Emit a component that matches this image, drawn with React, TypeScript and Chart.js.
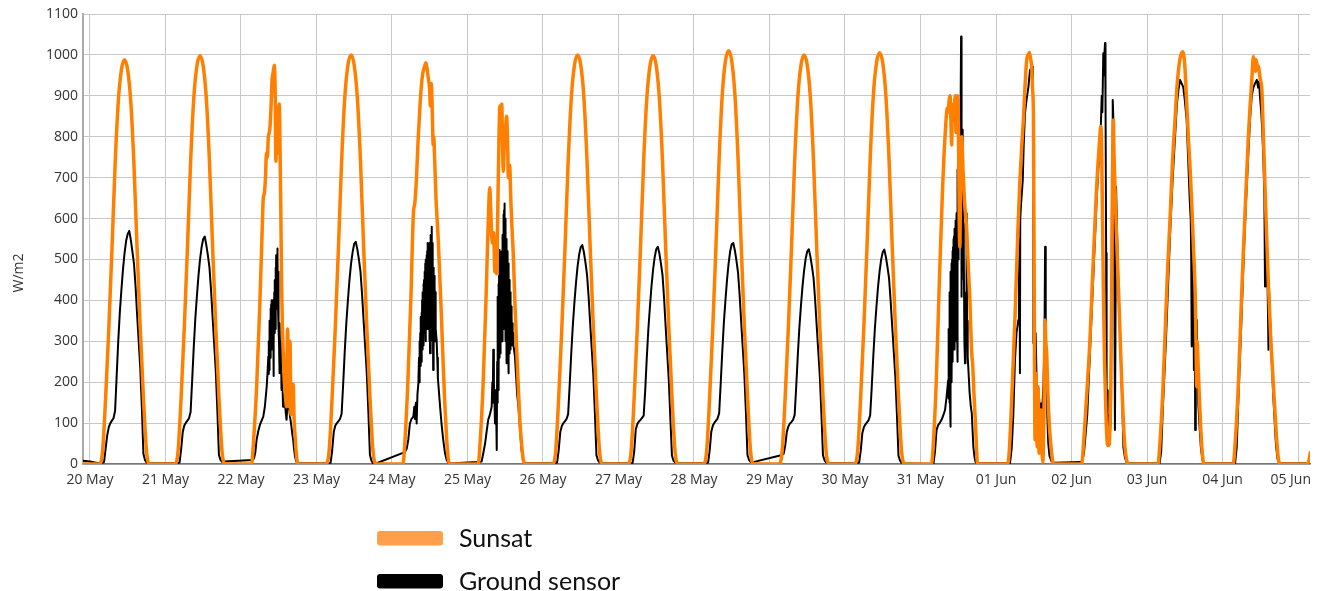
import { useEffect, useRef } from 'react';
import { Chart, registerables } from 'chart.js';
Chart.register(...registerables);

// ---------- axis / labels ----------
const DAY_LABELS = ['20 May', '21 May', '22 May', '23 May', '24 May', '25 May', '26 May', '27 May', '28 May', '29 May', '30 May', '31 May', '01 Jun', '02 Jun', '03 Jun', '04 Jun', '05 Jun'];
const X_MIN_HOURS = -2.2;
const X_MAX_HOURS = 387.8;
const Y_MIN = 0;
const Y_MAX = 1100;
const Y_STEP = 100;
const Y_TITLE = 'W/m2';
const SERIES_NAMES = ['Sunsat', 'Ground sensor'];

// ---------- Sunsat: clear days, hourly values (hours 3..19) ----------
const SUNSAT_HOURS = [3, 4, 5, 6, 7, 8, 9, 10, 11, 12, 13, 14, 15, 16, 17, 18, 19];
const sunsatClearDays = [0, 1, 3, 6, 7, 8, 9, 10];
const sunsatClearValues = [
  [0, 30, 163, 331, 524, 731, 884, 963, 988, 963, 884, 731, 524, 331, 163, 30, 0],
  [0, 30, 165, 334, 529, 738, 893, 973, 998, 973, 893, 738, 529, 334, 165, 30, 0],
  [0, 30, 165, 335, 530, 740, 895, 975, 1000, 975, 895, 740, 530, 335, 165, 30, 0],
  [0, 28, 163, 333, 528, 738, 894, 975, 1000, 976, 896, 741, 531, 336, 166, 30, 0],
  [0, 29, 164, 334, 529, 739, 893, 973, 998, 974, 893, 739, 529, 334, 164, 29, 0],
  [0, 30, 167, 338, 535, 747, 904, 985, 1010, 985, 904, 747, 535, 338, 167, 30, 0],
  [0, 30, 165, 335, 530, 740, 895, 975, 1000, 975, 895, 740, 530, 335, 165, 30, 0],
  [0, 30, 166, 337, 533, 744, 900, 980, 1005, 980, 900, 744, 533, 337, 166, 30, 0],
];

// ---------- Sunsat: cloudy days, [hour of day, W/m2] ----------
const sunsatLeadIn = [[-2.2, 0], [0, 0]];
const sunsat22May = [[3, 0], [3.4, 0], [4, 55], [5, 190], [6, 390], [6.7, 560], [7.1, 650], [7.4, 660], [7.8, 700], [8.1, 760], [8.4, 750], [8.7, 800], [9.0, 810], [9.3, 830], [9.6, 880], [9.9, 940], [10.2, 955], [10.6, 975], [10.9, 900], [11.1, 740], [11.3, 820], [11.55, 870], [11.8, 760], [12.0, 860], [12.2, 880], [12.45, 760], [12.7, 600], [12.9, 450], [13.2, 330], [13.5, 260], [13.8, 200], [14.1, 170], [14.5, 140], [14.8, 330], [15.1, 230], [15.3, 140], [15.6, 300], [15.9, 120], [16.2, 190], [16.6, 195], [16.9, 110], [17.2, 70], [17.6, 25], [18.1, 0], [19, 0]];
const sunsat24May = [[3, 0], [3.5, 0], [4, 40], [5, 190], [6, 400], [6.8, 610], [7.3, 640], [7.8, 700], [8.3, 790], [8.8, 860], [9.3, 920], [9.8, 955], [10.3, 970], [10.8, 981], [11.2, 965], [11.6, 940], [12.0, 915], [12.2, 875], [12.5, 930], [12.8, 870], [13.1, 780], [13.3, 800], [13.5, 760], [14.0, 650], [14.7, 550], [15.3, 440], [15.8, 345], [16.3, 240], [16.85, 140], [17.4, 60], [17.9, 12], [18.4, 0], [19, 0]];
const sunsat25May = [[3, 0], [3.4, 0], [4, 50], [5, 200], [6, 430], [6.8, 640], [7.1, 675], [7.4, 620], [7.7, 560], [8.0, 540], [8.3, 565], [8.7, 470], [9.0, 495], [9.3, 465], [9.6, 600], [10.0, 790], [10.3, 875], [10.6, 840], [10.9, 880], [11.2, 760], [11.4, 715], [11.7, 780], [12.1, 820], [12.45, 850], [12.8, 770], [13.0, 700], [13.4, 730], [13.8, 640], [14.2, 570], [14.6, 505], [15.1, 390], [15.6, 290], [16.2, 180], [16.7, 100], [17.2, 50], [17.75, 10], [18.3, 0], [19, 0]];
const sunsat31May = [[3, 0], [3.5, 0], [4, 40], [5, 200], [6, 450], [6.5, 560], [7, 670], [7.5, 760], [7.8, 800], [8.2, 850], [8.5, 870], [8.8, 860], [9.1, 890], [9.4, 900], [9.7, 830], [9.9, 780], [10.1, 860], [10.4, 880], [10.7, 840], [11.0, 900], [11.3, 810], [11.5, 870], [11.7, 900], [12.0, 860], [12.3, 600], [12.5, 530], [12.8, 760], [13.1, 800], [13.5, 720], [14.0, 640], [14.7, 570], [15.2, 480], [15.7, 400], [16.2, 280], [16.6, 240], [17.0, 170], [17.4, 110], [17.8, 40], [18.1, 0], [19, 0]];
const sunsat01Jun = [[3, 0], [3.7, 0], [4.2, 30], [5, 160], [6, 352], [7, 580], [7.6, 694], [8.2, 780], [8.7, 841], [9.2, 920], [9.75, 988], [10.2, 1000], [10.6, 1006], [11.0, 990], [11.35, 971], [11.6, 920], [11.9, 841], [12.1, 500], [12.4, 59], [12.55, 150], [12.7, 222], [12.9, 100], [13.1, 42], [13.25, 130], [13.4, 189], [13.55, 80], [13.7, 26], [13.9, 90], [14.1, 60], [14.3, 132], [14.5, 50], [14.7, 20], [14.85, 5], [15.1, 60], [15.35, 200], [15.6, 352], [15.8, 300], [16.1, 271], [16.5, 170], [16.9, 100], [17.2, 67], [17.7, 25], [18.2, 0], [19, 0]];
const sunsat02Jun = [[3, 0], [3.2, 0], [4, 70], [5, 190], [5.9, 311], [6.7, 460], [7.5, 597], [8.0, 680], [8.5, 743], [8.9, 790], [9.3, 825], [9.6, 760], [10.1, 434], [10.5, 250], [11.0, 108], [11.4, 48], [11.7, 45], [12.0, 48], [12.3, 120], [12.5, 189], [12.8, 450], [13.0, 678], [13.3, 841], [13.5, 760], [13.8, 678], [14.3, 560], [14.9, 434], [15.5, 300], [16.0, 189], [16.5, 100], [17.0, 40], [17.5, 10], [18.1, 0], [19, 0]];
const sunsat03Jun = [[3, 0], [3.5, 0], [4, 40], [5, 175], [5.7, 311], [6.5, 470], [7.3, 597], [8.1, 740], [8.9, 841], [9.5, 920], [10.0, 963], [10.6, 995], [11.35, 1008], [12.0, 975], [12.6, 882], [13.2, 790], [13.7, 720], [14.2, 638], [14.8, 520], [15.3, 418], [15.55, 300], [15.8, 189], [15.95, 300], [16.2, 250], [16.6, 170], [17.1, 83], [17.6, 25], [18.1, 0], [19, 0]];
const sunsat04Jun = [[3, 0], [3.4, 0], [4, 50], [5, 190], [6, 400], [6.6, 516], [7.4, 660], [8.2, 800], [8.8, 880], [9.3, 939], [9.6, 980], [9.8, 996], [10.0, 975], [10.2, 990], [10.5, 960], [10.65, 988], [11.0, 975], [11.4, 971], [12.0, 940], [12.5, 914], [13.0, 800], [13.5, 678], [14.0, 560], [14.6, 434], [15.3, 310], [16.2, 189], [16.8, 110], [17.3, 50], [17.8, 10], [18.3, 0], [19, 0]];
const sunsat05Jun = [[0, 0], [3, 0], [3.5, 10], [3.9, 28]];
const sunsatNoisyDays = [2, 4, 5, 11, 12, 13, 14, 15, 16];
const sunsatNoisyValues = [sunsat22May, sunsat24May, sunsat25May, sunsat31May, sunsat01Jun, sunsat02Jun, sunsat03Jun, sunsat04Jun, sunsat05Jun];

// ---------- Ground sensor: clear days, half-hourly values (hours 4.0..18.5) ----------
const GROUND_HOURS = [4, 4.5, 5, 5.5, 6, 6.5, 7, 7.5, 8, 8.5, 9, 9.5, 10, 10.5, 11, 11.5, 12, 12.5, 13, 13.5, 14, 14.5, 15, 15.5, 16, 16.5, 17, 17.5, 18, 18.5];
const groundClearDays = [0, 1, 3, 6, 7, 8, 9, 10];
const groundClearValues = [
  [3, 5, 38, 70, 90, 100, 106, 112, 130, 215, 300, 370, 425, 475, 515, 545, 562, 570, 548, 520, 490, 435, 365, 300, 235, 140, 25, 10, 4, 2],
  [2, 4, 36, 78, 94, 101, 106, 112, 127, 205, 285, 355, 410, 460, 500, 530, 550, 556, 535, 510, 480, 425, 358, 292, 228, 132, 22, 10, 5, 6],
  [2, 3, 33, 78, 94, 100, 105, 110, 123, 196, 276, 345, 400, 450, 490, 518, 538, 543, 525, 500, 470, 415, 350, 286, 222, 128, 22, 8, 2, 0],
  [2, 4, 34, 78, 93, 100, 105, 110, 122, 195, 272, 340, 395, 443, 483, 512, 530, 535, 518, 493, 463, 410, 345, 282, 219, 126, 21, 9, 4, 2],
  [2, 3, 30, 85, 98, 104, 108, 113, 118, 180, 260, 330, 385, 435, 475, 505, 525, 531, 515, 490, 462, 405, 335, 270, 205, 110, 20, 8, 4, 2],
  [2, 4, 34, 79, 94, 101, 106, 111, 124, 198, 276, 346, 400, 450, 490, 520, 537, 540, 522, 497, 468, 414, 348, 285, 221, 128, 22, 10, 5, 4],
  [22, 25, 45, 78, 92, 99, 103, 108, 120, 190, 266, 334, 387, 435, 473, 502, 520, 525, 507, 483, 455, 402, 339, 277, 215, 124, 21, 9, 4, 2],
  [2, 4, 32, 75, 90, 97, 102, 107, 119, 188, 264, 332, 385, 433, 471, 500, 518, 524, 506, 482, 454, 400, 337, 275, 213, 122, 20, 8, 3, 2],
];

// ---------- Ground sensor: cloudy days, [hour of day, W/m2] ----------
const groundLeadIn = [[-2.2, 8], [0, 6], [1.5, 4], [3, 2]];
const ground22May = [[3.8, 10], [4.2, 15], [4.6, 30], [5.0, 60], [5.5, 80], [6.0, 95], [6.5, 105], [7.1, 116], [7.6, 140], [8.2, 190], [8.5, 230], [8.7, 262], [8.8, 220], [8.9, 300], [8.95, 230], [9.0, 320], [9.1, 250], [9.2, 350], [9.3, 260], [9.4, 380], [9.5, 270], [9.6, 390], [9.7, 280], [9.8, 400], [9.9, 290], [10.0, 390], [10.1, 300], [10.2, 400], [10.3, 215], [10.4, 380], [10.5, 300], [10.6, 420], [10.7, 320], [10.8, 450], [10.9, 330], [11.0, 480], [11.1, 360], [11.2, 510], [11.3, 380], [11.4, 500], [11.5, 400], [11.55, 527], [11.6, 420], [11.7, 500], [11.8, 380], [11.9, 470], [12.0, 330], [12.1, 300], [12.2, 222], [12.35, 344], [12.5, 250], [12.7, 300], [12.9, 181], [13.1, 220], [13.4, 140], [13.6, 170], [13.9, 156], [14.2, 130], [14.5, 108], [14.8, 150], [15.0, 173], [15.3, 140], [15.6, 116], [16.0, 95], [16.3, 75], [16.6, 59], [16.9, 35], [17.2, 18], [17.6, 6], [17.9, 3], [18.5, 2]];
const ground24May = [[4.1, 29], [4.7, 38], [5.2, 60], [5.7, 99], [6.2, 110], [6.8, 116], [7.1, 140], [7.3, 110], [7.6, 150], [7.85, 99], [8.1, 170], [8.4, 197], [8.6, 260], [8.7, 200], [8.8, 300], [8.9, 220], [9.0, 320], [9.1, 240], [9.2, 360], [9.3, 250], [9.4, 370], [9.5, 270], [9.6, 400], [9.7, 280], [9.8, 420], [9.9, 300], [10.0, 440], [10.1, 290], [10.2, 450], [10.3, 320], [10.4, 470], [10.5, 330], [10.6, 490], [10.7, 300], [10.8, 500], [10.9, 340], [11.0, 510], [11.1, 330], [11.2, 520], [11.3, 350], [11.4, 540], [11.5, 330], [11.6, 530], [11.7, 360], [11.8, 520], [11.9, 300], [12.0, 540], [12.1, 271], [12.2, 520], [12.3, 330], [12.4, 560], [12.5, 350], [12.6, 580], [12.7, 330], [12.8, 540], [12.9, 300], [13.0, 500], [13.1, 230], [13.2, 480], [13.3, 300], [13.4, 460], [13.5, 320], [13.6, 440], [13.7, 300], [13.8, 420], [13.9, 300], [14.0, 330], [14.2, 303], [14.4, 260], [14.6, 210], [14.9, 180], [15.3, 140], [15.8, 95], [16.3, 59], [16.9, 25], [17.4, 10], [17.9, 3], [18.4, 1]];
const ground25May = [[3.0, 5], [4.5, 6], [5.0, 25], [5.6, 50], [6.1, 80], [6.6, 108], [7.1, 120], [7.7, 140], [7.9, 200], [8.05, 150], [8.2, 279], [8.4, 200], [8.6, 150], [8.75, 99], [8.9, 180], [9.05, 130], [9.2, 90], [9.3, 34], [9.45, 250], [9.5, 150], [9.55, 409], [9.6, 300], [9.65, 390], [9.7, 240], [9.75, 380], [9.8, 181], [9.85, 420], [9.9, 250], [9.95, 440], [10.0, 200], [10.05, 460], [10.1, 280], [10.15, 480], [10.2, 260], [10.25, 523], [10.3, 300], [10.35, 500], [10.4, 270], [10.45, 490], [10.5, 320], [10.55, 470], [10.6, 279], [10.65, 500], [10.7, 310], [10.75, 510], [10.8, 300], [10.85, 520], [10.9, 330], [10.95, 500], [11.0, 300], [11.05, 523], [11.1, 340], [11.15, 540], [11.2, 320], [11.25, 560], [11.3, 350], [11.35, 580], [11.4, 330], [11.45, 600], [11.5, 360], [11.55, 610], [11.6, 340], [11.65, 620], [11.7, 380], [11.75, 637], [11.8, 400], [11.85, 630], [11.9, 344], [11.95, 600], [12.0, 320], [12.05, 580], [12.1, 300], [12.15, 560], [12.2, 330], [12.25, 550], [12.3, 246], [12.35, 540], [12.4, 300], [12.45, 530], [12.5, 280], [12.55, 520], [12.6, 320], [12.65, 510], [12.7, 300], [12.75, 520], [12.8, 290], [12.85, 507], [12.9, 300], [12.95, 490], [13.0, 260], [13.05, 470], [13.1, 222], [13.15, 460], [13.2, 280], [13.25, 450], [13.3, 300], [13.35, 440], [13.4, 270], [13.45, 430], [13.5, 300], [13.55, 420], [13.6, 280], [13.65, 410], [13.7, 300], [13.75, 400], [13.8, 290], [13.85, 385], [13.9, 300], [13.95, 380], [14.0, 290], [14.05, 370], [14.1, 300], [14.15, 360], [14.2, 290], [14.3, 344], [14.4, 300], [14.5, 320], [14.6, 290], [14.8, 280], [15.1, 262], [15.5, 210], [15.8, 170], [16.2, 140], [16.7, 85], [17.2, 34], [17.75, 6], [18.2, 3], [18.5, 2]];
const ground31May = [[4.1, 0], [4.6, 30], [5.1, 83], [5.6, 95], [6.1, 100], [6.7, 108], [7.2, 118], [7.8, 132], [8.3, 165], [8.8, 205], [8.85, 260], [8.9, 180], [8.95, 300], [9.0, 160], [9.05, 330], [9.1, 200], [9.15, 380], [9.2, 150], [9.25, 400], [9.3, 220], [9.35, 420], [9.4, 150], [9.45, 440], [9.5, 250], [9.55, 450], [9.6, 91], [9.65, 470], [9.7, 260], [9.75, 480], [9.8, 200], [9.85, 491], [9.9, 300], [9.95, 470], [10.0, 200], [10.05, 500], [10.1, 280], [10.15, 510], [10.2, 300], [10.25, 520], [10.3, 250], [10.35, 530], [10.4, 320], [10.45, 540], [10.5, 280], [10.55, 550], [10.6, 330], [10.65, 556], [10.7, 300], [10.75, 560], [10.8, 280], [10.85, 570], [10.9, 330], [10.95, 575], [11.0, 300], [11.05, 580], [11.1, 350], [11.15, 588], [11.2, 330], [11.25, 595], [11.3, 380], [11.35, 600], [11.4, 300], [11.45, 610], [11.5, 400], [11.55, 613], [11.6, 350], [11.65, 640], [11.7, 250], [11.75, 680], [11.8, 420], [11.85, 720], [11.9, 600], [11.95, 780], [12.0, 650], [12.05, 800], [12.1, 500], [12.15, 820], [12.2, 700], [12.25, 840], [12.3, 760], [12.35, 833], [12.4, 780], [12.45, 840], [12.5, 600], [12.55, 820], [12.6, 720], [12.65, 830], [12.7, 750], [12.8, 840], [12.9, 1045], [13.0, 620], [13.1, 409], [13.2, 700], [13.3, 817], [13.4, 550], [13.5, 650], [13.6, 588], [13.7, 450], [13.8, 520], [13.95, 300], [14.15, 246], [14.3, 320], [14.5, 420], [14.65, 613], [14.8, 350], [15.0, 262], [15.3, 220], [15.6, 175], [16.0, 140], [16.3, 124], [16.5, 90], [16.8, 42], [17.2, 15], [17.5, 5], [17.9, 2], [18.5, 2]];
const ground01Jun = [[3.0, 2], [4.45, 2], [5.0, 40], [5.5, 120], [6.0, 250], [6.5, 320], [7.1, 352], [7.3, 450], [7.5, 550], [7.6, 222], [7.7, 600], [8.0, 640], [8.5, 694], [8.8, 780], [9.2, 857], [9.7, 890], [10.3, 922], [10.8, 963], [11.3, 968], [11.7, 971], [11.85, 700], [11.9, 295], [12.1, 380], [12.3, 250], [12.6, 320], [12.9, 200], [13.1, 132], [13.4, 180], [13.7, 160], [14.0, 120], [14.3, 148], [14.5, 83], [14.8, 150], [15.1, 200], [15.4, 300], [15.6, 531], [15.8, 360], [16.0, 250], [16.3, 120], [16.6, 51], [17.0, 20], [17.7, 5], [18.2, 3], [18.5, 3]];
const ground02Jun = [[3.0, 5], [3.4, 5], [4.0, 30], [5.0, 120], [5.9, 280], [6.7, 420], [7.5, 560], [8.0, 650], [8.5, 720], [8.9, 760], [9.3, 820], [9.6, 900], [9.8, 860], [10.1, 1004], [10.3, 950], [10.45, 1000], [10.65, 1029], [10.8, 900], [11.0, 516], [11.1, 300], [11.2, 91], [11.35, 180], [11.5, 88], [11.65, 120], [11.8, 67], [12.1, 60], [12.4, 100], [12.6, 300], [12.8, 550], [12.95, 780], [13.1, 890], [13.3, 841], [13.5, 650], [13.65, 400], [13.8, 83], [13.95, 300], [14.15, 678], [14.5, 560], [14.9, 434], [15.5, 300], [16.0, 189], [16.5, 40], [17.0, 15], [17.6, 3], [18.5, 2]];
const ground03Jun = [[3.0, 2], [4.0, 2], [4.5, 30], [5, 130], [6, 300], [7.3, 556], [8.1, 690], [8.9, 800], [9.5, 880], [10.0, 915], [10.5, 939], [11.0, 930], [11.5, 922], [12.0, 890], [12.6, 841], [13.2, 720], [13.6, 640], [13.9, 597], [14.05, 500], [14.2, 287], [14.4, 560], [14.7, 500], [14.9, 230], [15.05, 440], [15.2, 400], [15.3, 83], [15.5, 300], [15.8, 352], [16.0, 250], [16.3, 148], [16.7, 90], [17.1, 42], [17.6, 10], [18.2, 2], [18.5, 2]];
const ground04Jun = [[3.0, 2], [4.0, 2], [4.5, 40], [5, 150], [6, 350], [6.6, 480], [7.4, 630], [8.2, 760], [8.8, 850], [9.3, 900], [9.8, 920], [10.3, 930], [10.9, 939], [11.3, 920], [11.6, 935], [11.9, 898], [12.3, 860], [12.6, 820], [13.0, 740], [13.3, 650], [13.5, 434], [13.7, 620], [14.0, 560], [14.3, 450], [14.6, 279], [14.8, 420], [15.1, 360], [15.6, 260], [16.1, 170], [16.6, 100], [17.0, 45], [17.5, 12], [18.0, 2], [18.5, 2]];
const ground05Jun = [[0, 2], [3.9, 2]];
const groundNoisyDays = [2, 4, 5, 11, 12, 13, 14, 15, 16];
const groundNoisyValues = [ground22May, ground24May, ground25May, ground31May, ground01Jun, ground02Jun, ground03Jun, ground04Jun, ground05Jun];

function buildSeries(hours: number[], clearDays: number[], clearValues: number[][], noisyDays: number[], noisyValues: number[][][], leadIn: number[][]) {
  const pts: { x: number; y: number }[] = [];
  clearDays.forEach((d, i) => clearValues[i].forEach((v, j) => pts.push({ x: d * 24 + hours[j], y: v })));
  noisyDays.forEach((d, i) => noisyValues[i].forEach(([h, v]) => pts.push({ x: d * 24 + h, y: v })));
  leadIn.forEach(([h, v]) => pts.push({ x: h, y: v }));
  pts.sort((a, b) => a.x - b.x);
  return pts;
}

const overlayPlugin = {
  id: 'overlay',
  afterDraw(chart: any) {
    const ctx = chart.ctx;
    const xs = chart.scales.x;
    const area = chart.chartArea;
    ctx.save();
    // x tick labels
    ctx.font = '14px "Open Sans"';
    ctx.fillStyle = '#333';
    ctx.textBaseline = 'alphabetic';
    ctx.textAlign = 'left';
    DAY_LABELS.forEach((lab, i) => {
      const px = xs.getPixelForValue(i * 24);
      const w = ctx.measureText(lab).width;
      let left = px - w / 2;
      if (left + w > chart.width - 6) left = chart.width - 6 - w;
      ctx.fillText(lab, left, area.bottom + 20);
    });
    // y title
    ctx.save();
    ctx.translate(19, 273);
    ctx.rotate(-Math.PI / 2);
    ctx.textAlign = 'center';
    ctx.textBaseline = 'middle';
    ctx.fillText(Y_TITLE, 0, 0);
    ctx.restore();
    // legend
    const swatch = (y: number, color: string) => {
      ctx.fillStyle = color;
      ctx.beginPath();
      ctx.roundRect(377, y, 66, 14.5, 3);
      ctx.fill();
    };
    swatch(531, '#ff9f4b');
    swatch(574, '#000000');
    ctx.fillStyle = '#111';
    ctx.font = '25px Lato';
    ctx.textAlign = 'left';
    ctx.textBaseline = 'alphabetic';
    ctx.fillText(SERIES_NAMES[0], 459, 547);
    ctx.fillText(SERIES_NAMES[1], 459, 590);
    ctx.restore();
  },
};

export default function App() {
  const ref = useRef<HTMLCanvasElement>(null);
  useEffect(() => {
    document.body.style.margin = '0';
    const sunsat = buildSeries(SUNSAT_HOURS, sunsatClearDays, sunsatClearValues, sunsatNoisyDays, sunsatNoisyValues, sunsatLeadIn);
    const ground = buildSeries(GROUND_HOURS, groundClearDays, groundClearValues, groundNoisyDays, groundNoisyValues, groundLeadIn);
    const chart = new Chart(ref.current as HTMLCanvasElement, {
      type: 'line',
      data: {
        datasets: [
          {
            label: SERIES_NAMES[0],
            data: sunsat,
            borderColor: '#ff7f00',
            borderWidth: 3.5,
            pointRadius: 0,
            cubicInterpolationMode: 'monotone',
            borderJoinStyle: 'round',
            borderCapStyle: 'round',
            fill: false,
            order: 0,
          },
          {
            label: SERIES_NAMES[1],
            data: ground,
            borderColor: '#000000',
            borderWidth: 2,
            pointRadius: 0,
            tension: 0,
            borderJoinStyle: 'round',
            fill: false,
            order: 1,
          },
        ],
      } as any,
      options: {
        animation: false,
        responsive: false,
        events: [],
        layout: { padding: { left: 0, top: 14, right: 7, bottom: 97 } },
        plugins: { legend: { display: false }, tooltip: { enabled: false } },
        scales: {
          x: {
            type: 'linear',
            min: X_MIN_HOURS,
            max: X_MAX_HOURS,
            afterFit: (s: any) => { s.height = 30; },
            ticks: { display: false, stepSize: 24, includeBounds: false, maxTicksLimit: 40 },
            grid: { color: '#c8c8c8', lineWidth: 1, drawTicks: false },
            border: { color: '#777777', width: 1.5 },
          },
          y: {
            min: Y_MIN,
            max: Y_MAX,
            afterFit: (s: any) => { s.width = 83; },
            ticks: { stepSize: Y_STEP, maxTicksLimit: 20, padding: 5, color: '#333', font: { family: '"Open Sans"', size: 14 }, callback: (v: number) => String(v) },
            grid: { color: '#c8c8c8', lineWidth: 1, drawTicks: false },
            border: { color: '#aaaaaa', width: 2 },
          },
        },
      } as any,
      plugins: [overlayPlugin],
    });
    return () => chart.destroy();
  }, []);
  return <canvas ref={ref} width={1317} height={591} style={{ display: 'block' }} />;
}
